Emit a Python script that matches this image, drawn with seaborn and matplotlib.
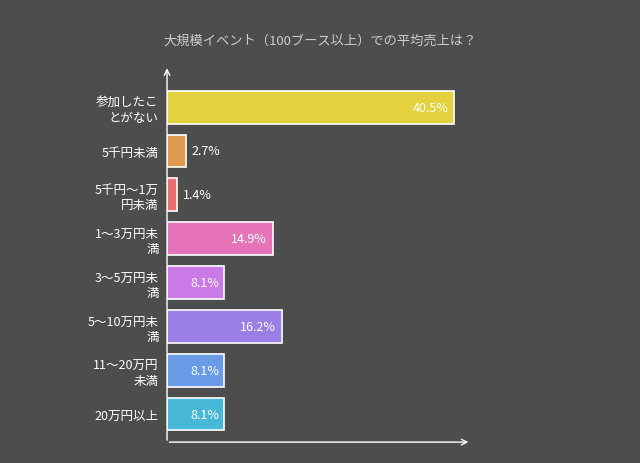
import matplotlib
matplotlib.use("Agg")
import matplotlib.pyplot as plt
import seaborn as sns
import pandas as pd

plt.rcParams["font.family"] = ["Noto Sans CJK JP"]

categories = ["参加したこ\nとがない", "5千円未満", "5千円～1万\n円未満", "1～3万円未\n満", "3～5万円未\n満", "5～10万円未\n満", "11～20万円\n未満", "20万円以上"]
values = [40.5, 2.7, 1.4, 14.9, 8.1, 16.2, 8.1, 8.1]
colors = ["#e3d23e", "#e09a50", "#ea6e6e", "#e673b8", "#c97ae6", "#9a7ee6", "#6a9be6", "#48b8d8"]
title = "大規模イベント（100ブース以上）での平均売上は？"

bg = "#4d4d4d"
fig = plt.figure(figsize=(6.4, 4.64), dpi=100, facecolor=bg)
ax = fig.add_axes([0.261, 0.045, 0.473, 0.808], facecolor=bg)
df = pd.DataFrame({"cat": categories, "val": values})
sns.barplot(data=df, x="val", y="cat", hue="cat", palette=colors, legend=False,
            ax=ax, width=0.75, edgecolor="white", linewidth=1.2, saturation=1)
ax.set_xlim(0, 42.7)
ax.set_ylim(7.64, -0.91)
for s in ax.spines.values():
    s.set_visible(False)
ax.set_xticks([])
ax.set_xlabel("")
ax.set_ylabel("")
ax.tick_params(axis="y", length=0, pad=6, colors="white", labelsize=9)
for t in ax.get_yticklabels():
    t.set_horizontalalignment("right")
ax.annotate("", xy=(0, -0.95), xytext=(0, 7.66), xycoords="data",
            arrowprops=dict(arrowstyle="->", color="white", lw=1), annotation_clip=False)
ax.annotate("", xy=(42.9, 7.64), xytext=(-0.05, 7.64), xycoords="data",
            arrowprops=dict(arrowstyle="->", color="white", lw=1), annotation_clip=False)
for i, v in enumerate(values):
    if v > 5:
        ax.text(v - 0.8, i, f"{v}%", ha="right", va="center", color="white", fontsize=9)
    else:
        ax.text(v + 0.8, i, f"{v}%", ha="left", va="center", color="white", fontsize=9)
fig.text(0.5, 0.912, title, ha="center", va="center", color="#cccccc", fontsize=9.5)
fig.savefig("out.png", dpi=100, facecolor=bg)
